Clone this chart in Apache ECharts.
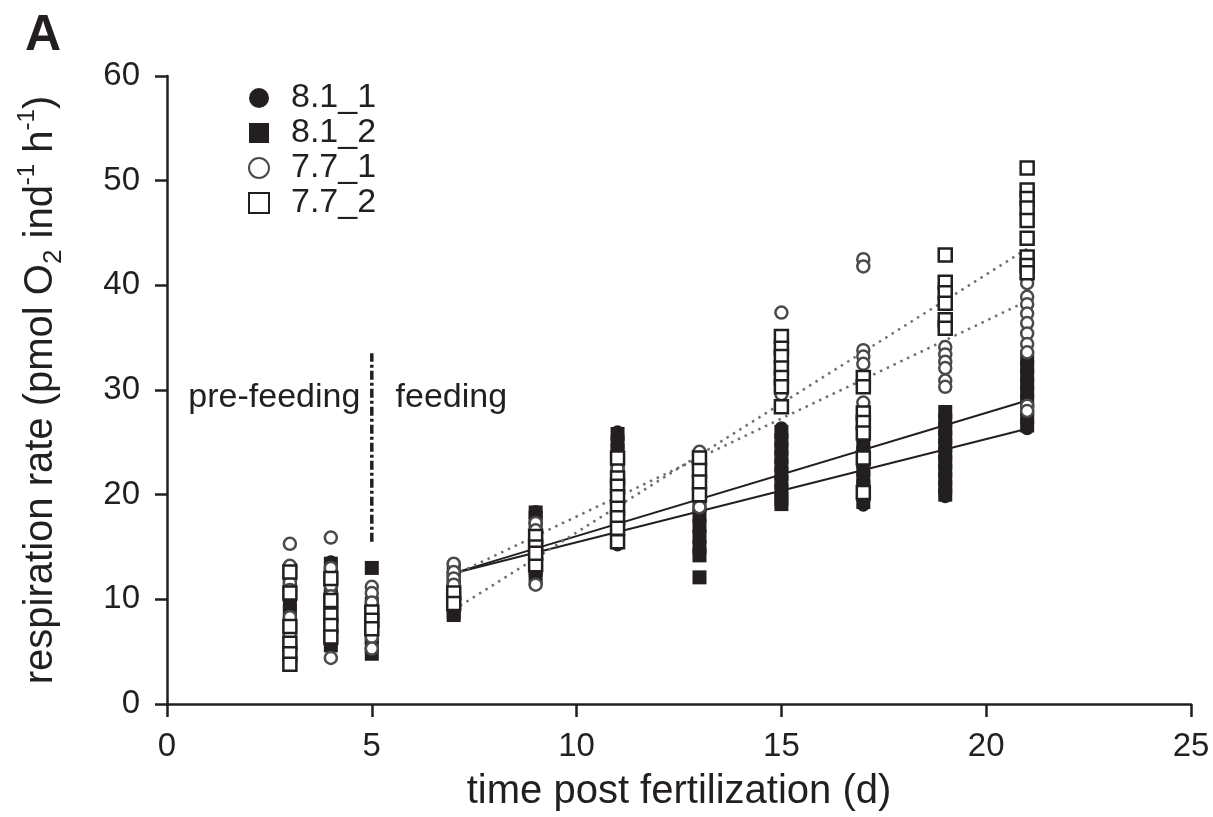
<!DOCTYPE html>
<html>
<head>
<meta charset="utf-8">
<script src="https://cdn.jsdelivr.net/npm/echarts@6/dist/echarts.min.js"></script>
<style>
html,body{margin:0;padding:0;background:#fff;}
#chart{width:1213px;height:817px;}
</style>
</head>
<body>
<div id="chart"></div>
<script>
// ---- data ----
const days = [3, 4, 5, 7, 9, 11, 13, 15, 17, 19, 21];
const xTicks = [0, 5, 10, 15, 20, 25];
const yTicks = [0, 10, 20, 30, 40, 50, 60];
const seriesNames = ['8.1_1', '8.1_2', '7.7_1', '7.7_2'];

const r81_1 = [
  [13.2, 12.4, 11.6, 10.8, 10.0, 9.2, 8.4, 7.6, 6.8],
  [13.6, 12.8, 12.0, 11.2, 10.4, 9.6, 8.8, 8.0, 7.2, 6.4],
  [10.0, 9.2, 8.4, 7.6, 6.8, 6.0, 5.2],
  [13.2, 12.4, 11.6, 10.8, 10.0, 9.2],
  [18.4, 17.4, 16.4, 15.4, 14.4, 13.4, 12.4, 11.6],
  [26.0, 24.8, 23.6, 22.4, 21.2, 20.0, 18.8, 17.6, 16.4, 15.2],
  [24.0, 23.2, 22.0, 20.8, 19.6, 18.6, 17.6, 16.6, 15.6, 14.6],
  [26.4, 25.6, 24.8, 24.0, 23.2, 22.4, 21.6, 20.8, 20.0],
  [25.2, 24.4, 23.6, 22.8, 22.0, 21.2, 20.4, 19.6, 19.0],
  [27.6, 26.8, 26.0, 25.2, 24.4, 23.6, 22.8, 22.0, 21.2, 20.4, 19.8],
  [33.4, 32.6, 31.8, 31.0, 30.2, 29.4, 28.6, 27.8, 27.0, 26.3]
];
const r81_2 = [
  [12.8, 12.0, 11.2, 10.4, 9.6, 8.8, 8.0, 7.2, 6.5, 5.7, 4.9],
  [13.4, 12.6, 11.8, 11.0, 10.2, 9.4, 8.6, 7.8, 7.0, 6.2, 5.6],
  [13.0, 9.6, 8.8, 8.0, 7.2, 6.4, 5.6, 4.8],
  [12.8, 12.0, 11.2, 10.4, 9.6, 8.8, 8.5],
  [18.3, 17.8, 16.8, 15.8, 14.8, 13.8, 12.8, 12.0],
  [25.8, 25.0, 24.2, 23.0, 21.8, 20.4, 19.2, 18.0, 16.8, 15.6],
  [23.6, 22.6, 21.4, 20.2, 19.0, 18.0, 17.0, 16.0, 15.0, 14.2, 12.1],
  [26.0, 25.2, 24.4, 23.6, 22.8, 22.0, 21.2, 20.4, 19.6, 19.1],
  [24.8, 24.0, 23.2, 22.4, 21.6, 20.8, 20.0, 19.3],
  [27.9, 27.1, 26.3, 25.5, 24.7, 23.9, 23.1, 22.3, 21.5, 20.7, 20.0],
  [33.0, 32.2, 31.4, 30.6, 29.8, 29.0, 28.2, 27.4, 26.6]
];
const r77_1 = [
  [15.3, 13.2, 11.6, 10.9, 8.3, 6.6],
  [15.9, 13.0, 11.3, 10.3, 7.8, 4.4],
  [11.2, 10.6, 9.7, 8.4, 6.4, 5.3],
  [13.4, 12.6, 12.0, 11.4],
  [17.3, 16.6, 14.0, 11.4],
  [22.5, 20.2, 18.3, 17.2],
  [24.1, 23.0, 21.8, 18.8],
  [37.4, 33.5, 30.8, 29.6],
  [42.5, 41.8, 33.8, 33.2, 32.5, 28.8, 27.3],
  [34.1, 33.4, 32.7, 32.1, 30.9, 30.3],
  [40.8, 40.2, 38.9, 38.2, 37.3, 36.4, 35.4, 34.4, 33.6, 28.5, 28.0]
];
const r77_2 = [
  [12.6, 10.6, 7.4, 5.8, 4.8, 3.8],
  [12.0, 9.9, 8.5, 7.5, 6.4],
  [8.8, 8.0, 7.2],
  [10.6, 9.6],
  [16.0, 15.0, 13.3, 14.4],
  [23.5, 21.6, 20.8, 19.8, 18.7, 17.8, 16.8, 15.5],
  [23.5, 22.3, 21.2, 20.0],
  [35.1, 34.0, 33.2, 32.1, 31.2, 30.3, 28.4],
  [31.2, 30.3, 27.8, 26.9, 25.9, 23.5, 20.2],
  [42.9, 40.3, 39.3, 38.3, 36.7, 35.9],
  [51.2, 49.1, 48.3, 47.4, 46.2, 44.5, 42.7, 41.9, 41.2]
];

// regression lines (feeding period)
const fitDays = [7, 21];
const fit81_a = [12.5, 29.0];
const fit81_b = [12.5, 26.3];
const fit77_a = [12.3, 38.5];
const fit77_b = [9.0, 43.5];

// feeding onset marker
const onsetDay = 5;
const onsetRange = [15.5, 33.5];

// annotation text
const preLabel = 'pre-feeding';
const postLabel = 'feeding';
const labelY = 29.3;
const preLabelX = 4.72;
const postLabelX = 5.58;

// ---- build ----
const INK = '#231f20';
const FONT = "'Liberation Sans', Arial, Helvetica, sans-serif";
function toPoints(arr) {
  const out = [];
  days.forEach((d, i) => arr[i].forEach(v => out.push([d, v])));
  return out;
}
function fitLine(ys) { return fitDays.map((d, i) => [d, ys[i]]); }

const chart = echarts.init(document.getElementById('chart'), null, {renderer: 'canvas'});
const solid = {color: INK, width: 2, type: 'solid'};
const dotted = {color: '#6e6e6e', width: 2.5, type: [2.5, 5]};

chart.setOption({
  animation: false,
  backgroundColor: '#fff',
  textStyle: {fontFamily: FONT, color: INK},
  title: {
    text: 'A', left: 20, top: 6,
    textStyle: {fontSize: 50, fontWeight: 'bold', color: INK, fontFamily: FONT}
  },
  legend: {
    data: seriesNames,
    orient: 'vertical',
    left: 243, top: 76,
    itemWidth: 20, itemHeight: 20, itemGap: 1,
    textStyle: {fontSize: 34, lineHeight: 34, color: INK, fontFamily: FONT, padding: [0, 0, 0, 17]}
  },
  grid: {left: 167, right: 22, top: 76, bottom: 113, containLabel: false},
  xAxis: {
    type: 'value', min: xTicks[0], max: xTicks[xTicks.length - 1], interval: 5,
    name: 'time post fertilization (d)', nameLocation: 'middle', nameGap: 68,
    nameTextStyle: {fontSize: 40, color: INK, fontFamily: FONT},
    axisLine: {show: true, lineStyle: {color: INK, width: 2.5}},
    axisTick: {show: true, length: 13, lineStyle: {color: INK, width: 2.5}},
    axisLabel: {fontSize: 33, color: INK, margin: 26, fontFamily: FONT},
    splitLine: {show: false}
  },
  yAxis: {
    type: 'value', min: yTicks[0], max: yTicks[yTicks.length - 1], interval: 10,
    name: 'respiration rate (pmol O{sub|2} ind{sup|-1} h{sup|-1})',
    nameLocation: 'middle', nameGap: 100, nameRotate: 90,
    nameTextStyle: {
      fontSize: 40, color: INK, fontFamily: FONT, lineHeight: 52,
      rich: {
        sub: {fontSize: 26, lineHeight: 26, verticalAlign: 'bottom', color: INK, fontFamily: FONT},
        sup: {fontSize: 24, lineHeight: 24, verticalAlign: 'top', color: INK, fontFamily: FONT}
      }
    },
    axisLine: {show: true, lineStyle: {color: INK, width: 2.5}},
    axisTick: {show: true, length: 12, lineStyle: {color: INK, width: 2.5}},
    axisLabel: {fontSize: 33, color: INK, margin: 27, fontFamily: FONT},
    splitLine: {show: false}
  },
  series: [
    {type: 'line', data: fitLine(fit81_a), symbol: 'none', lineStyle: solid, silent: true, z: 1},
    {type: 'line', data: fitLine(fit81_b), symbol: 'none', lineStyle: solid, silent: true, z: 1},
    {type: 'line', data: fitLine(fit77_a), symbol: 'none', lineStyle: dotted, silent: true, z: 1},
    {type: 'line', data: fitLine(fit77_b), symbol: 'none', lineStyle: dotted, silent: true, z: 1},
    {type: 'line', data: onsetRange.map(v => [onsetDay, v]), symbol: 'none', silent: true, z: 1,
     lineStyle: {color: INK, width: 3.5, type: [9, 3, 3, 3]}},
    {name: seriesNames[0], type: 'scatter', data: toPoints(r81_1), symbol: 'circle', symbolSize: 13,
     itemStyle: {color: INK, borderColor: INK, borderWidth: 0, opacity: 1}, z: 2},
    {name: seriesNames[1], type: 'scatter', data: toPoints(r81_2), symbol: 'rect', symbolSize: 14,
     itemStyle: {color: INK, borderColor: INK, borderWidth: 0, opacity: 1}, z: 2},
    {name: seriesNames[2], type: 'scatter', data: toPoints(r77_1), symbol: 'circle', symbolSize: 12,
     itemStyle: {color: '#ffffff', borderColor: '#4a4a4a', borderWidth: 2.5, opacity: 1}, z: 3},
    {name: seriesNames[3], type: 'scatter', data: toPoints(r77_2), symbol: 'rect', symbolSize: 13,
     itemStyle: {color: '#ffffff', borderColor: INK, borderWidth: 2.5, opacity: 1}, z: 3}
  ]
});

// annotation texts positioned through the axes
const pPre = chart.convertToPixel({gridIndex: 0}, [preLabelX, labelY]);
const pPost = chart.convertToPixel({gridIndex: 0}, [postLabelX, labelY]);
chart.setOption({
  graphic: [
    {type: 'text', x: pPre[0], y: pPre[1], silent: true,
     style: {text: preLabel, fill: INK, font: '34px ' + FONT, textAlign: 'right', textVerticalAlign: 'middle'}},
    {type: 'text', x: pPost[0], y: pPost[1], silent: true,
     style: {text: postLabel, fill: INK, font: '34px ' + FONT, textAlign: 'left', textVerticalAlign: 'middle'}}
  ]
});
</script>
</body>
</html>
